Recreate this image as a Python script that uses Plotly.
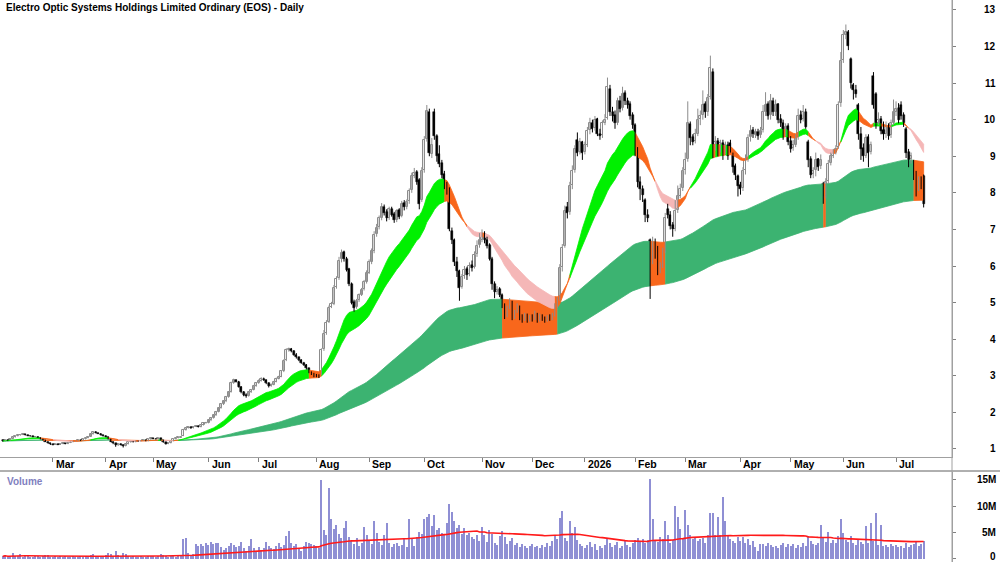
import numpy as np
import pandas as pd
import plotly.graph_objects as go

# ---------------- data ----------------
title_text = "Electro Optic Systems Holdings Limited Ordinary (EOS) - Daily"

asx_holidays = ["2025-04-18", "2025-04-21", "2025-04-25", "2025-06-09",
                "2025-12-25", "2025-12-26", "2026-01-01", "2026-01-26",
                "2026-04-03", "2026-04-06", "2026-06-08"]
first_day = "2025-02-03"
last_day = "2026-07-16"

open_px = [
    1.24,1.22,1.25,1.24,1.28,1.32,1.35,1.37,1.39,1.40,1.38,1.36,1.35,1.32,1.34,1.31,1.27,1.24,1.20,1.16,  # Feb 25
    1.13,1.12,1.13,1.12,1.14,1.15,1.14,1.17,1.19,1.21,1.22,1.24,1.23,1.27,1.30,1.34,1.40,1.46,1.44,1.42,1.38,  # Mar
    1.36,1.33,1.27,1.20,1.15,1.10,1.14,1.12,1.08,1.13,1.18,1.20,1.19,1.22,1.21,1.23,1.24,1.22,1.26,  # Apr
    1.29,1.28,1.27,1.29,1.24,1.18,1.14,1.16,1.22,1.27,1.30,1.31,1.36,1.52,1.58,1.60,1.57,1.61,1.63,1.60,1.65,1.70,  # May
    1.72,1.78,1.85,1.92,2.02,2.12,2.22,2.30,2.42,2.56,2.80,2.88,2.84,2.70,2.55,2.48,2.45,2.55,2.62,2.72,  # Jun
    2.80,2.86,2.92,2.88,2.80,2.72,2.76,2.84,2.92,2.98,3.14,3.42,3.70,3.74,3.68,3.58,3.50,3.42,3.36,3.30,3.20,3.10,3.06,  # Jul
    3.02,3.00,3.05,3.72,4.18,4.48,4.88,4.97,5.42,5.68,6.18,6.38,6.20,5.92,5.52,5.02,4.87,5.07,5.22,5.37,5.57,  # Aug
    5.82,6.12,6.42,6.87,7.07,7.32,7.62,7.47,7.32,7.57,7.42,7.27,7.52,7.37,7.72,7.62,7.77,8.07,8.47,8.57,8.35,7.80,  # Sep
    8.62,9.47,10.20,9.05,10.20,9.55,9.05,8.82,8.52,8.22,8.10,6.95,6.70,6.10,5.85,5.42,5.72,5.92,5.77,6.02,5.97,6.32,6.57,  # Oct
    6.72,6.87,6.72,6.57,6.20,5.52,5.30,5.37,5.22,4.92,4.67,4.87,5.02,4.62,4.77,4.88,4.62,4.57,4.67,4.52,  # Nov
    4.62,4.57,4.68,4.52,4.63,4.57,4.52,4.62,4.57,4.67,4.92,5.10,5.97,6.55,7.60,7.48,8.22,8.62,9.45,9.12,9.38,  # Dec
    9.12,9.32,9.72,9.92,9.77,10.02,9.62,9.57,9.92,10.05,10.85,10.22,10.12,9.92,10.52,10.32,10.72,10.52,10.42,10.12,  # Jan 26
    9.85,9.20,8.30,8.10,7.80,7.40,6.70,6.12,6.62,6.48,5.92,6.02,6.42,7.55,7.40,7.12,7.02,7.52,7.92,8.12,  # Feb
    8.62,8.92,9.88,9.52,9.42,9.62,10.02,10.12,10.42,10.22,10.62,11.30,9.32,9.42,9.22,9.37,9.12,9.32,9.35,9.05,8.72,8.45,  # Mar
    8.22,8.12,8.62,8.92,9.52,9.72,9.58,9.67,9.57,9.72,10.22,10.42,10.12,10.52,10.22,10.42,10.02,9.92,9.62,9.82,  # Apr
    9.42,9.22,9.32,9.52,10.12,10.02,10.22,9.40,8.92,8.52,8.62,8.92,8.72,8.25,7.92,8.32,8.82,9.02,9.12,9.25,10.45,  # May
    11.62,12.32,12.40,11.65,10.95,10.82,10.40,9.62,9.22,9.02,9.52,9.12,11.20,10.70,9.92,10.02,9.72,9.62,9.82,9.57,9.92,  # Jun
    10.22,10.32,10.40,10.12,9.75,9.12,8.92,8.85,8.55,8.12,8.32,8.45,  # Jul
]
high_px = [
    1.26,1.25,1.26,1.29,1.33,1.36,1.38,1.40,1.42,1.41,1.39,1.37,1.36,1.35,1.35,1.32,1.28,1.25,1.21,1.17,
    1.14,1.14,1.14,1.15,1.16,1.16,1.18,1.20,1.22,1.23,1.25,1.25,1.28,1.31,1.35,1.42,1.48,1.48,1.45,1.43,1.39,
    1.37,1.34,1.28,1.21,1.16,1.15,1.15,1.13,1.14,1.19,1.21,1.21,1.23,1.23,1.24,1.25,1.25,1.27,1.30,
    1.30,1.29,1.30,1.30,1.25,1.19,1.17,1.23,1.28,1.31,1.32,1.34,1.55,1.60,1.62,1.61,1.62,1.65,1.64,1.66,1.72,1.74,
    1.80,1.87,1.94,2.04,2.14,2.24,2.33,2.45,2.58,2.84,2.92,2.90,2.86,2.72,2.58,2.52,2.57,2.64,2.75,2.83,
    2.90,2.96,2.95,2.90,2.82,2.79,2.86,2.95,3.00,3.15,3.45,3.75,3.77,3.76,3.70,3.62,3.52,3.45,3.38,3.32,3.22,3.12,3.08,
    3.05,3.04,3.75,4.25,4.52,4.92,5.02,5.48,5.72,6.25,6.45,6.42,6.25,5.95,5.55,5.08,5.10,5.25,5.40,5.62,5.88,
    6.18,6.48,6.95,7.15,7.38,7.72,7.68,7.55,7.62,7.62,7.48,7.55,7.58,7.78,7.80,7.82,8.12,8.55,8.68,8.62,8.40,8.70,
    9.55,10.40,10.30,9.50,10.30,9.60,9.30,8.90,8.60,8.30,8.15,7.05,6.75,6.25,5.90,5.78,6.00,5.98,6.10,6.15,6.40,6.70,6.90,
    7.00,6.95,6.80,6.62,6.25,5.58,5.45,5.42,5.25,4.98,4.92,5.12,5.05,4.80,4.98,4.92,4.68,4.72,4.70,4.66,
    4.68,4.78,4.72,4.70,4.68,4.62,4.66,4.68,4.72,4.98,5.15,6.05,6.60,7.65,7.75,8.30,8.75,9.30,9.65,9.50,9.42,
    9.40,9.80,10.05,10.00,10.10,10.05,9.75,9.98,10.15,11.15,10.95,10.35,10.25,10.60,10.65,10.90,10.80,10.60,10.50,10.20,
    9.90,9.25,8.45,8.20,7.85,7.55,6.75,6.80,6.75,6.55,6.10,6.50,7.45,7.70,7.50,7.20,7.80,8.20,8.25,8.70,
    9.10,10.50,9.95,9.60,9.75,10.30,10.25,10.80,10.50,10.70,11.75,11.40,9.55,9.50,9.45,9.45,9.40,9.40,9.45,9.10,8.80,8.50,
    8.30,8.70,9.05,9.60,9.85,9.80,9.75,9.75,9.80,10.40,10.75,10.50,10.70,10.60,10.55,10.45,10.15,10.00,9.90,9.90,
    9.55,9.45,9.60,10.30,10.25,10.40,10.30,9.45,9.00,8.70,9.10,8.95,9.05,8.30,8.40,8.90,9.10,9.20,9.30,10.50,11.85,
    12.45,12.60,12.45,11.70,11.00,10.95,10.45,9.80,9.35,9.60,9.60,9.40,11.30,10.75,10.20,10.10,9.95,9.95,9.90,10.00,10.55,
    10.50,10.45,10.50,10.20,9.80,9.20,9.10,8.90,8.60,8.45,8.45,8.50,
]
low_px = [
    1.20,1.21,1.22,1.23,1.27,1.31,1.34,1.36,1.38,1.37,1.35,1.34,1.32,1.31,1.30,1.26,1.23,1.19,1.15,1.11,
    1.10,1.11,1.11,1.11,1.13,1.13,1.13,1.16,1.18,1.20,1.21,1.22,1.22,1.26,1.29,1.33,1.39,1.43,1.41,1.37,1.34,
    1.32,1.26,1.19,1.13,1.06,1.08,1.10,1.04,1.07,1.12,1.17,1.18,1.18,1.20,1.20,1.22,1.21,1.21,1.25,
    1.27,1.26,1.26,1.23,1.17,1.12,1.13,1.15,1.21,1.26,1.29,1.30,1.35,1.50,1.56,1.55,1.56,1.60,1.59,1.59,1.64,1.69,
    1.70,1.76,1.83,1.90,2.00,2.10,2.20,2.28,2.40,2.54,2.78,2.82,2.68,2.52,2.44,2.40,2.43,2.53,2.60,2.70,
    2.78,2.84,2.86,2.77,2.68,2.70,2.74,2.82,2.90,2.96,3.10,3.40,3.66,3.64,3.55,3.47,3.40,3.33,3.27,3.17,3.07,3.02,2.96,
    2.96,2.94,3.03,3.68,4.12,4.44,4.85,4.93,5.38,5.62,6.10,6.12,5.85,5.45,4.95,4.75,4.83,5.02,5.18,5.33,5.52,
    5.78,6.05,6.35,6.80,7.00,7.25,7.38,7.22,7.26,7.35,7.18,7.20,7.28,7.33,7.52,7.55,7.70,8.00,8.40,8.22,7.55,7.75,
    8.55,9.40,9.00,8.95,9.45,8.85,8.70,8.40,8.10,7.95,6.95,6.60,6.00,5.70,5.05,5.38,5.65,5.62,5.72,5.85,5.93,6.25,6.50,
    6.65,6.62,6.48,6.15,5.35,5.12,5.22,5.15,4.85,4.55,4.60,4.82,4.52,4.55,4.72,4.52,4.45,4.50,4.45,4.48,
    4.48,4.52,4.45,4.48,4.50,4.45,4.48,4.50,4.52,4.62,4.85,5.05,5.85,6.50,7.30,7.40,8.10,8.55,9.00,9.05,8.90,
    9.05,9.25,9.60,9.65,9.70,9.55,9.45,9.50,9.85,10.00,10.10,9.95,9.75,9.85,10.20,10.25,10.40,10.30,10.00,9.75,
    9.00,8.15,7.80,7.75,7.20,7.20,5.10,6.05,6.20,5.75,5.80,5.95,6.35,7.30,7.00,6.80,6.95,7.45,7.85,8.05,
    8.50,8.85,9.30,9.30,9.35,9.55,9.85,10.00,10.05,10.10,10.55,8.95,9.15,9.00,9.10,8.90,9.05,8.90,9.10,8.55,8.35,7.90,
    7.95,8.05,8.50,8.85,9.40,9.50,9.50,9.45,9.50,9.65,10.10,10.00,10.00,10.10,10.10,9.90,9.80,9.45,9.55,9.30,
    9.10,9.15,9.25,9.45,9.90,9.95,9.75,8.70,8.40,8.40,8.45,8.60,8.65,7.70,7.85,8.25,8.75,8.95,9.05,9.20,10.35,
    11.55,12.20,11.90,10.85,10.55,10.60,9.45,8.90,8.85,8.95,8.70,9.05,10.30,9.75,9.85,9.60,9.45,9.50,9.45,9.50,9.85,
    10.10,9.90,10.00,9.80,8.95,8.70,8.80,8.35,7.90,8.05,8.10,7.60,
]
close_px = [
    1.22,1.24,1.23,1.28,1.32,1.35,1.37,1.39,1.40,1.38,1.36,1.35,1.33,1.34,1.31,1.27,1.24,1.20,1.16,1.13,
    1.12,1.13,1.12,1.14,1.15,1.14,1.17,1.19,1.21,1.22,1.24,1.23,1.27,1.30,1.34,1.40,1.46,1.44,1.42,1.38,1.36,
    1.33,1.27,1.20,1.15,1.10,1.14,1.12,1.08,1.13,1.18,1.20,1.19,1.22,1.21,1.23,1.24,1.22,1.26,1.29,
    1.28,1.27,1.29,1.24,1.18,1.14,1.16,1.22,1.27,1.30,1.31,1.33,1.52,1.58,1.60,1.57,1.61,1.63,1.60,1.65,1.70,1.72,
    1.78,1.85,1.92,2.02,2.12,2.22,2.30,2.42,2.55,2.80,2.88,2.84,2.70,2.55,2.48,2.45,2.55,2.62,2.72,2.80,
    2.86,2.92,2.88,2.80,2.72,2.76,2.84,2.92,2.98,3.12,3.40,3.70,3.72,3.68,3.58,3.50,3.42,3.36,3.30,3.20,3.10,3.06,3.02,
    3.00,2.98,3.70,4.15,4.45,4.85,4.95,5.40,5.65,6.15,6.35,6.20,5.90,5.50,5.00,4.85,5.05,5.20,5.35,5.55,5.80,
    6.10,6.40,6.85,7.05,7.30,7.60,7.45,7.30,7.55,7.40,7.25,7.50,7.35,7.70,7.60,7.75,8.05,8.45,8.55,8.30,7.70,8.60,
    9.45,10.25,9.10,9.30,9.55,9.00,8.80,8.50,8.20,8.05,7.00,6.70,6.10,5.85,5.40,5.70,5.90,5.75,6.00,5.95,6.30,6.55,6.70,
    6.85,6.70,6.55,6.20,5.50,5.30,5.35,5.20,4.90,4.65,4.85,5.00,4.60,4.75,4.90,4.60,4.55,4.65,4.50,4.60,
    4.55,4.70,4.50,4.65,4.55,4.50,4.60,4.55,4.65,4.90,5.05,5.95,6.50,7.50,7.45,8.20,8.60,9.20,9.10,9.40,9.10,
    9.30,9.70,9.90,9.75,10.00,9.60,9.55,9.90,10.00,10.90,10.20,10.10,9.90,10.50,10.30,10.70,10.50,10.40,10.10,9.85,
    9.20,8.30,8.10,7.95,7.40,7.30,6.10,6.60,6.50,5.90,6.00,6.40,7.30,7.40,7.10,7.00,7.50,7.90,8.10,8.60,
    8.90,9.90,9.50,9.40,9.60,10.00,10.10,10.40,10.20,10.60,11.40,9.30,9.40,9.20,9.35,9.10,9.30,9.00,9.20,8.70,8.50,8.20,
    8.10,8.60,8.90,9.50,9.70,9.60,9.65,9.55,9.70,10.20,10.40,10.10,10.50,10.20,10.40,10.00,9.90,9.60,9.80,9.40,
    9.20,9.30,9.50,10.10,10.00,10.20,9.80,8.90,8.50,8.60,8.90,8.70,8.90,7.90,8.30,8.80,9.00,9.10,9.20,10.40,11.60,
    12.30,12.40,12.00,11.00,10.80,10.70,9.60,9.20,9.00,9.50,9.10,9.30,10.40,9.90,10.00,9.70,9.60,9.80,9.55,9.90,10.20,
    10.30,10.00,10.10,9.90,9.10,8.90,9.00,8.50,8.10,8.30,8.20,7.70,
]
volume_m = [
    0.5,0.7,0.4,0.6,1.1,0.5,0.6,0.9,0.4,0.5,0.6,0.3,0.4,0.5,0.6,0.4,0.5,0.7,0.8,0.4,
    0.4,0.5,0.3,0.6,0.4,0.5,0.3,0.4,0.5,0.4,0.3,0.5,0.4,0.6,0.5,0.7,1.0,0.6,0.5,0.4,0.5,
    0.7,1.2,0.9,0.6,1.5,0.8,0.5,1.1,1.0,0.6,0.4,0.5,0.4,0.3,0.5,0.4,0.4,0.6,0.5,
    0.5,0.4,0.6,0.9,0.7,0.5,0.4,0.5,0.6,0.4,0.5,0.8,3.8,3.9,1.2,0.8,1.0,2.8,2.5,2.9,2.4,3.1,
    2.6,3.2,2.8,3.0,3.1,2.2,1.8,2.0,2.4,3.0,2.6,2.3,2.5,3.3,2.0,1.5,2.4,3.7,2.0,1.6,
    2.2,1.8,2.0,3.2,2.4,2.1,1.9,2.5,3.0,2.2,2.6,4.3,5.3,3.0,2.4,2.8,2.0,1.6,2.5,3.2,3.0,2.8,2.6,
    2.4,2.0,15.0,5.5,4.6,13.5,7.6,5.6,6.4,4.8,3.9,5.8,7.2,4.2,3.5,2.8,4.0,2.5,3.1,6.0,4.5,
    3.5,2.8,7.2,5.0,3.2,2.6,4.5,6.8,3.0,2.2,2.8,3.0,2.5,2.6,4.0,2.3,7.6,3.8,2.4,4.2,5.2,4.8,
    7.5,8.0,8.5,6.2,8.4,5.5,5.8,5.0,4.5,6.8,10.4,8.9,7.2,5.8,6.5,4.8,5.8,4.5,5.0,4.2,3.8,4.6,3.5,
    6.0,4.5,3.2,5.5,4.8,3.0,2.6,4.4,5.3,4.2,2.8,3.4,4.0,2.6,3.0,2.2,2.8,2.5,2.0,2.4,
    2.8,2.2,2.5,2.0,2.6,2.3,3.0,2.4,3.5,4.5,3.8,7.8,9.1,4.0,3.5,7.2,5.0,6.0,3.6,2.8,2.4,
    2.0,2.6,3.2,2.2,2.8,1.8,2.4,2.0,2.6,3.8,3.0,2.2,2.6,3.2,2.0,2.4,3.4,2.6,2.2,3.0,
    3.6,4.0,3.2,3.8,3.0,3.6,15.2,7.6,3.4,3.2,4.2,3.8,7.2,4.5,3.0,3.6,10.0,7.9,5.7,4.0,
    9.3,6.5,4.5,3.8,4.2,3.5,3.8,4.0,3.0,4.6,8.8,8.7,4.5,8.0,4.6,11.7,7.2,4.4,3.8,3.4,3.0,4.2,
    3.5,4.2,3.0,3.8,2.6,3.4,2.2,1.6,2.8,2.9,2.4,3.0,2.6,2.2,2.4,2.0,2.6,3.0,2.2,2.8,
    2.4,2.8,2.0,2.6,2.2,3.0,2.4,4.4,3.4,2.8,2.6,3.0,6.4,4.0,3.2,5.2,3.0,3.6,3.0,4.4,7.6,
    5.0,3.6,3.2,4.4,3.0,2.6,3.8,3.2,2.8,6.3,3.0,6.9,3.4,8.8,2.6,6.5,2.4,2.6,2.2,2.8,2.4,
    2.6,2.2,2.4,2.0,3.0,2.2,2.6,2.8,3.2,2.4,2.8,3.4,
]
price_ticks = list(range(1, 14))
volume_ticks = [0, 5, 10, 15]
volume_tick_text = ["0", "5M", "10M", "15M"]
short_band_periods = [21, 34]     # fast / slow EMA of the short ribbon
long_band_periods = [140, 240]    # fast / slow EMA of the long ribbon
volume_ma_period = 63

# ---------------- derived ----------------
dates = pd.bdate_range(first_day, last_day, freq="C", holidays=asx_holidays)
n = min(len(dates), len(open_px), len(high_px), len(low_px), len(close_px), len(volume_m))
dates = dates[:n]
o = np.array(open_px[:n]); c = np.array(close_px[:n])
h = np.maximum(np.array(high_px[:n]), np.maximum(o, c))
l = np.minimum(np.array(low_px[:n]), np.minimum(o, c))
vol = np.array(volume_m[:n])
idx = np.arange(n)

cs = pd.Series(c)
def ema(p):
    return cs.ewm(span=p, adjust=False).mean().values

s_fast, s_slow = ema(short_band_periods[0]), ema(short_band_periods[1])
l_fast, l_slow = ema(long_band_periods[0]), ema(long_band_periods[1])
s_up, s_lo = np.maximum(s_fast, s_slow), np.minimum(s_fast, s_slow)
l_up, l_lo = np.maximum(l_fast, l_slow), np.minimum(l_fast, l_slow)

s_rising = np.r_[True, np.diff(s_fast) >= 0]
short_state = np.where((s_fast >= s_slow) & s_rising, "bull",
                       np.where((s_fast < s_slow) & ~s_rising, "bear", "mixed"))
long_state = np.where(c >= l_up, "bull", "mixed")

GREEN = "#00f000"; PINK = "#f5b7b7"; ORANGE = "#f8671c"; DKGREEN = "#3cb371"
short_colors = {"bull": GREEN, "bear": PINK, "mixed": ORANGE}
long_colors = {"bull": DKGREEN, "bear": ORANGE, "mixed": ORANGE}

def ribbon_traces(upper, lower, state, colors):
    out = []
    start = 0
    for k in range(1, n + 1):
        if k == n or state[k] != state[start]:
            xs = list(range(start, min(k, n - 1) + 1))
            col = colors[state[start]]
            out.append(go.Scatter(
                x=xs + xs[::-1],
                y=list(upper[xs]) + list(lower[xs][::-1]),
                fill="toself", fillcolor=col, mode="lines",
                line=dict(color=col, width=0.8),
                hoverinfo="skip", showlegend=False, xaxis="x", yaxis="y"))
            start = k
    return out

fig = go.Figure()
for t in ribbon_traces(l_up, l_lo, long_state, long_colors):
    fig.add_trace(t)
for t in ribbon_traces(s_up, s_lo, short_state, short_colors):
    fig.add_trace(t)

# candles: wicks + bodies
up = c >= o
def wick_xy(mask):
    xs, ys = [], []
    for k in idx[mask]:
        xs += [k, k, None]; ys += [l[k], h[k], None]
    return xs, ys
for mask, col in ((up, "#8c8c8c"), (~up, "#000000")):
    wx, wy = wick_xy(mask)
    fig.add_trace(go.Scatter(x=wx, y=wy, mode="lines", line=dict(color=col, width=1),
                             hoverinfo="skip", showlegend=False, xaxis="x", yaxis="y"))
body_lo = np.minimum(o, c); body_hi = np.maximum(o, c)
body_h = np.maximum(body_hi - body_lo, 0.015)
fig.add_trace(go.Bar(x=idx[up], y=body_h[up], base=body_lo[up], width=0.8,
                     marker=dict(color="#ffffff", line=dict(color="#8c8c8c", width=1)),
                     showlegend=False, xaxis="x", yaxis="y"))
fig.add_trace(go.Bar(x=idx[~up], y=body_h[~up], base=body_lo[~up], width=0.8,
                     marker=dict(color="#000000", line=dict(color="#000000", width=0.5)),
                     showlegend=False, xaxis="x", yaxis="y"))

vol_ma = pd.Series(vol).rolling(volume_ma_period, min_periods=1).mean().values
fig.add_trace(go.Bar(x=idx, y=vol, width=0.45, marker=dict(color="#8f8fd4", line=dict(width=0)),
                     showlegend=False, xaxis="x2", yaxis="y2"))
fig.add_trace(go.Scatter(x=idx, y=vol_ma, mode="lines", line=dict(color="#ff1a1a", width=1.6),
                         showlegend=False, xaxis="x2", yaxis="y2"))

# month ticks
month_idx, month_lab = [], []
for k in range(1, n):
    if dates[k].month != dates[k - 1].month:
        month_idx.append(k)
        month_lab.append(str(dates[k].year) if dates[k].month == 1 else dates[k].strftime("%b"))

W, H = 1000, 562
XR = [-1.1, 378.3]
AX = "#a0a0a0"
FONT = "Liberation Sans, Arial, sans-serif"

annotations = [dict(text="<b>" + title_text + "</b>", xref="paper", yref="paper",
                    x=4 / W, y=1 - 8 / H, xanchor="left", yanchor="middle", showarrow=False,
                    font=dict(family=FONT, size=10, color="#000000"))]
annotations.append(dict(text="<b>Volume</b>", xref="paper", yref="paper", x=5 / W, y=1 - 481 / H,
                        xanchor="left", yanchor="middle", showarrow=False,
                        font=dict(family=FONT, size=10, color="#7f7fc0")))
for v in price_ticks:
    annotations.append(dict(text="<b>%d</b>" % v, xref="paper", yref="y", x=998 / W, y=v,
                            xanchor="right", yanchor="middle", showarrow=False,
                            font=dict(family=FONT, size=10, color="#000000")))
for v, t in zip(volume_ticks, volume_tick_text):
    annotations.append(dict(text="<b>%s</b>" % t, xref="paper", yref="y2", x=998 / W, y=v,
                            xanchor="right", yanchor="middle", showarrow=False,
                            yshift=(2 if v == 0 else 0),
                            font=dict(family=FONT, size=10, color="#000000")))
for k, t in zip(month_idx, month_lab):
    annotations.append(dict(text="<b>%s</b>" % t, xref="x", yref="paper", x=k, y=1 - 464 / H,
                            xanchor="left", yanchor="middle", xshift=1, showarrow=False,
                            font=dict(family=FONT, size=10.5, color="#000000")))

fig.update_layout(
    width=W, height=H, margin=dict(l=0, r=0, t=0, b=0),
    paper_bgcolor="#ffffff", plot_bgcolor="#ffffff",
    showlegend=False, barmode="overlay", bargap=0,
    xaxis=dict(domain=[0, 952 / W], range=XR, anchor="y", showgrid=False, zeroline=False,
               showline=True, linecolor=AX, linewidth=1, ticks="outside", ticklen=4,
               tickcolor="#808080", tickvals=month_idx, showticklabels=False, fixedrange=True),
    yaxis=dict(domain=[1 - 457 / H, 1], range=[0.78, 13.27], side="right", anchor="x",
               showgrid=False, zeroline=False, showline=True, linecolor=AX, linewidth=1,
               ticks="outside", ticklen=3, tickcolor="#808080", tickvals=price_ticks,
               showticklabels=False, fixedrange=True),
    xaxis2=dict(domain=[0, 952 / W], range=XR, anchor="y2", showgrid=False, zeroline=False,
                showline=False, showticklabels=False, ticks="", fixedrange=True),
    yaxis2=dict(domain=[0, 1 - 472 / H], range=[-0.57, 16.5], side="right", anchor="x2",
                showgrid=False, zeroline=False, showline=True, linecolor=AX, linewidth=1,
                ticks="outside", ticklen=3, tickcolor="#808080", tickvals=volume_ticks,
                showticklabels=False, fixedrange=True),
    annotations=annotations,
    shapes=[
        dict(type="line", xref="paper", yref="paper", x0=0, x1=1, y0=1 - 471 / H, y1=1 - 471 / H,
             line=dict(color="#606060", width=1)),
        dict(type="line", xref="paper", yref="paper", x0=952 / W, x1=952 / W, y0=0, y1=1,
             line=dict(color=AX, width=1)),
    ],
)

fig.write_html("out.html")
